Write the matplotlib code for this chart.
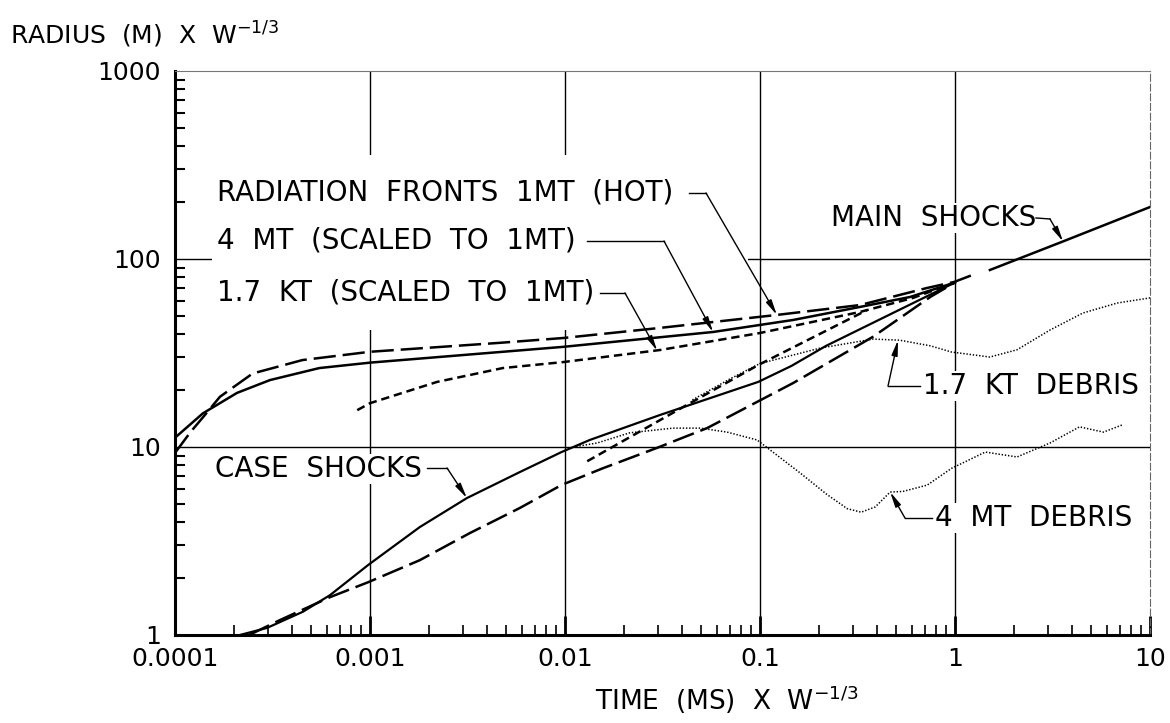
import matplotlib
matplotlib.use('Agg')
import matplotlib.pyplot as plt
from matplotlib.ticker import FixedLocator, FixedFormatter, LogLocator, NullFormatter
from matplotlib.patches import Rectangle

plt.rcParams['font.family'] = ['DejaVu Sans']
plt.rcParams['mathtext.default'] = 'regular'
plt.rcParams['lines.scale_dashes'] = False

# ---- data (time in ms * W^-1/3, radius in m * W^-1/3)
x_ticks = [1e-4, 1e-3, 1e-2, 1e-1, 1, 10]
x_labels = ['0.0001', '0.001', '0.01', '0.1', '1', '10']
y_ticks = [1, 10, 100, 1000]
y_labels = ['1', '10', '100', '1000']

# radiation front 1 MT (hot) - long dash
hot_t = [1e-4, 1.2e-4, 1.4e-4, 1.7e-4, 2.5e-4, 4.5e-4, 1e-3, 4.6e-3, 9.8e-3, 0.0307, 0.122, 0.326, 0.718, 0.99, 1.22]
hot_r = [9.3, 12.0, 14.5, 18.5, 24.6, 29.0, 32.1, 35.8, 38.0, 43.0, 50.4, 56.9, 70.1, 75.5, 82.0]

# radiation front 4 MT scaled - solid
mt4_t = [1e-4, 1.39e-4, 2.08e-4, 3.07e-4, 5.5e-4, 1e-3, 9.8e-3, 0.0574, 0.148, 0.326, 0.588, 1.0]
mt4_r = [11.2, 15.1, 19.4, 22.7, 26.3, 28.1, 34.1, 40.9, 47.4, 55.6, 62.8, 75.0]

# radiation front 1.7 KT scaled - short dash
kt_t = [8.6e-4, 1e-3, 2.21e-3, 4.8e-3, 9.8e-3, 0.0307, 0.1, 0.326, 0.61, 1.0]
kt_r = [15.7, 17.1, 22.2, 26.3, 28.3, 32.8, 40.4, 52.3, 62.1, 75.0]

# case shocks
case4_t = [2.15e-4, 2.96e-4, 4.53e-4, 6.24e-4, 9.8e-4, 1.8e-3, 3.14e-3, 5.87e-3, 9.6e-3, 0.0134, 0.0307,
           0.098, 0.145, 0.218, 0.48, 1.0]
case4_r = [1.0, 1.09, 1.33, 1.63, 2.36, 3.75, 5.35, 7.36, 9.4, 10.9, 14.8,
           22.2, 27.0, 34.5, 51.6, 75.0]

case1_t = [2.4e-4, 3.45e-4, 6.24e-4, 9.8e-4, 1.8e-3, 3.26e-3, 5.87e-3, 9.6e-3, 0.0156, 0.0297, 0.0535, 0.148, 0.38, 0.75, 1.0]
case1_r = [1.0, 1.2, 1.59, 1.91, 2.5, 3.49, 4.74, 6.28, 7.7, 9.9, 12.6, 21.9, 38.6, 63.0, 75.0]

kcase_t = [0.013, 0.0403, 0.098, 0.354]
kcase_r = [8.4, 16.3, 27.3, 53.5]

# debris
kdeb_t = [0.045, 0.07, 0.1, 0.204, 0.38, 0.52, 0.75, 0.96, 1.51, 2.08, 3.07, 4.53, 6.78, 10.0]
kdeb_r = [17.8, 23.0, 27.8, 33.6, 37.5, 37.0, 34.5, 32.0, 30.1, 32.9, 41.9, 51.6, 58.3, 62.1]

mdeb_t = [0.011, 0.0146, 0.0215, 0.0358, 0.0494, 0.0678, 0.0966, 0.16, 0.22, 0.28, 0.33, 0.39,
          0.465, 0.54, 0.72, 0.96, 1.43, 2.08, 3.07, 4.35, 5.77, 7.2]
mdeb_r = [10.0, 10.5, 11.9, 12.6, 12.6, 12.0, 10.9, 7.3, 5.6, 4.7, 4.5, 4.8,
          5.76, 5.8, 6.27, 7.7, 9.4, 8.85, 10.5, 12.8, 12.0, 13.1]

# main shock
main_t = [1.51, 3.58, 10.0]
main_r = [87.4, 124.0, 189.0]


fig = plt.figure(figsize=(11.7, 7.23), dpi=100)
ax = fig.add_axes([175/1170, 1-635/723, 975/1170, 564/723])
ax.set_xscale('log')
ax.set_yscale('log')

# decade grid, drawn by hand so the frame edges stay thin
for v in x_ticks[1:-1]:
    ax.axvline(v, color='black', lw=1.0, zorder=0.5)
for v in y_ticks[1:-1]:
    ax.axhline(v, color='black', lw=1.0, zorder=0.5)

# blank patch behind the label block (grid is broken there in the original)
ax.add_patch(Rectangle((0.038, 0.541), 0.55, 0.31, transform=ax.transAxes,
                       facecolor='white', edgecolor='none', zorder=1))

long_dash = (16, 5)
short_dash = (6, 3.5)
dots = (1, 1.3)

ax.plot(hot_t, hot_r, color='black', lw=1.8, dashes=long_dash, zorder=3)
ax.plot(mt4_t, mt4_r, color='black', lw=1.8, zorder=3)
ax.plot(kt_t, kt_r, color='black', lw=1.8, dashes=short_dash, zorder=3)
ax.plot(case4_t, case4_r, color='black', lw=1.6, zorder=3)
ax.plot(case1_t, case1_r, color='black', lw=1.8, dashes=long_dash, zorder=3)
ax.plot(kcase_t, kcase_r, color='black', lw=1.8, dashes=short_dash, zorder=3)
ax.plot(kdeb_t, kdeb_r, color='black', lw=1.1, dashes=dots, zorder=3)
ax.plot(mdeb_t, mdeb_r, color='black', lw=1.1, dashes=dots, zorder=3)
ax.plot(main_t, main_r, color='black', lw=1.8, zorder=3)

ax.set_xlim(x_ticks[0], x_ticks[-1])
ax.set_ylim(y_ticks[0], y_ticks[-1])

# ticks
ax.xaxis.set_major_locator(FixedLocator(x_ticks))
ax.xaxis.set_major_formatter(FixedFormatter(x_labels))
ax.yaxis.set_major_locator(FixedLocator(y_ticks))
ax.yaxis.set_major_formatter(FixedFormatter(y_labels))
ax.xaxis.set_minor_locator(LogLocator(base=10, subs=range(2, 10)))
ax.yaxis.set_minor_locator(LogLocator(base=10, subs=range(2, 10)))
ax.xaxis.set_minor_formatter(NullFormatter())
ax.yaxis.set_minor_formatter(NullFormatter())
ax.tick_params(which='both', direction='in', top=False, right=False)
ax.tick_params(axis='x', which='major', length=14, width=2, pad=9, labelsize=18)
ax.tick_params(axis='x', which='minor', length=7, width=1.2)
ax.tick_params(axis='y', which='major', length=0, pad=10, labelsize=18)
ax.tick_params(axis='y', which='minor', length=7, width=1.5)

ax.spines['left'].set_linewidth(2.2)
ax.spines['bottom'].set_linewidth(2.2)
ax.spines['top'].set_linewidth(0.8)
ax.spines['top'].set_color('#777777')
ax.spines['right'].set_linewidth(0.8)
ax.spines['right'].set_color('#666666')
ax.spines['right'].set_linestyle((0, (5, 2)))

# labels with leader lines
box = dict(facecolor='white', edgecolor='none', pad=1)
def label(x, y, s, ha='left'):
    ax.text(x, y, s, transform=ax.transAxes, fontsize=20, ha=ha, va='center',
            bbox=box, zorder=4)

def leader(start, elbow, tip):
    ax.plot([start[0], elbow[0]], [start[1], elbow[1]], transform=ax.transAxes,
            color='black', lw=1.0, zorder=4)
    ax.annotate('', xy=tip, xycoords='data', xytext=elbow, textcoords='axes fraction',
                arrowprops=dict(arrowstyle='-|>,head_length=0.9,head_width=0.18',
                                color='black', lw=1.0, shrinkA=0, shrinkB=0),
                zorder=4)

label(0.0431, 0.7837, 'RADIATION  FRONTS  1MT  (HOT)')
leader((0.527, 0.7837), (0.5446, 0.7837), (0.122, 50.4))

label(0.0431, 0.6986, '4  MT  (SCALED  TO  1MT)')
leader((0.4226, 0.6986), (0.5015, 0.6986), (0.0574, 40.9))

label(0.0431, 0.6064, '1.7  KT  (SCALED  TO  1MT)')
leader((0.4359, 0.6064), (0.4615, 0.6064), (0.0297, 32.5))

label(0.6728, 0.7394, 'MAIN  SHOCKS')
leader((0.8831, 0.7394), (0.8974, 0.7376), (3.58, 124.0))

label(0.7672, 0.4415, '1.7  KT  DEBRIS')
leader((0.7641, 0.4415), (0.7313, 0.4415), (0.51, 37.0))

label(0.7795, 0.2074, '4  MT  DEBRIS')
leader((0.7764, 0.2074), (0.7487, 0.2074), (0.465, 5.76))

label(0.041, 0.2943, 'CASE  SHOCKS')
leader((0.2585, 0.2961), (0.279, 0.2961), (3.14e-3, 5.35))

fig.text(10/1170, 1-35/723, 'RADIUS  (M)  X  W$^{-1/3}$', fontsize=18, ha='left', va='center')
fig.text(727/1170, 1-700/723, 'TIME  (MS)  X  W$^{-1/3}$', fontsize=19, ha='center', va='center')

fig.savefig('out.png', dpi=100)
